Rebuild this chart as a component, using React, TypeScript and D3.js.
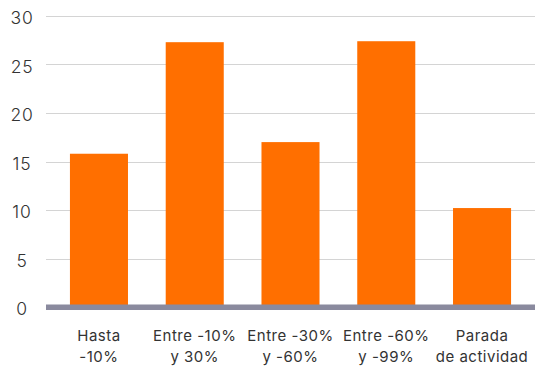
import React from "react";
import * as d3 from "d3";

const categories: string[][] = [
  ["Hasta", "-10%"],
  ["Entre -10%", "y 30%"],
  ["Entre -30%", "y -60%"],
  ["Entre -60%", "y -99%"],
  ["Parada", "de actividad"],
];
const values: number[] = [15.8, 27.3, 17.0, 27.4, 10.2];
const yTicks: number[] = [0, 5, 10, 15, 20, 25, 30];

const W = 535;
const H = 367;
const FONT = "Inter, 'Open Sans', sans-serif";

export default function App() {
  const keys = categories.map((c) => c.join(" "));
  const x = d3
    .scaleBand<string>()
    .domain(keys)
    .range([46, 535])
    .paddingInner(0.394)
    .paddingOuter(0.25);
  const y = d3.scaleLinear().domain([0, 30]).range([307, 16]);

  return (
    <svg
      width={W}
      height={H}
      style={{ position: "absolute", left: 0, top: 0 }}
      fontFamily={FONT}
    >
      <rect width={W} height={H} fill="#fff" />
      {yTicks.map((t) => (
        <g key={t}>
          {t > 0 && (
            <line
              x1={46}
              x2={535}
              y1={Math.round(y(t)) + 0.5}
              y2={Math.round(y(t)) + 0.5}
              stroke="#d4d4d4"
              strokeWidth={1.2}
            />
          )}
          <text
            x={22}
            y={y(t) + 3.5}
            textAnchor="middle"
            dominantBaseline="middle"
            fontSize={17.5}
            fontWeight={300}
            letterSpacing={0.8}
            fill="#333"
          >
            {t}
          </text>
        </g>
      ))}
      {values.map((v, i) => (
        <rect
          key={i}
          x={x(keys[i])}
          width={x.bandwidth()}
          y={y(v)}
          height={y(0) - y(v)}
          fill="#FF6F00"
        />
      ))}
      <rect x={46} y={304.5} width={489} height={5.5} fill="#8a8a9e" />
      {categories.map((c, i) => (
        <text
          key={i}
          x={(x(keys[i]) as number) + x.bandwidth() / 2}
          textAnchor="middle"
          fontSize={15}
          letterSpacing={0.5}
          fill="#333"
        >
          {c.map((line, j) => (
            <tspan
              key={j}
              x={(x(keys[i]) as number) + x.bandwidth() / 2}
              y={341 + j * 21}
            >
              {line}
            </tspan>
          ))}
        </text>
      ))}
    </svg>
  );
}
